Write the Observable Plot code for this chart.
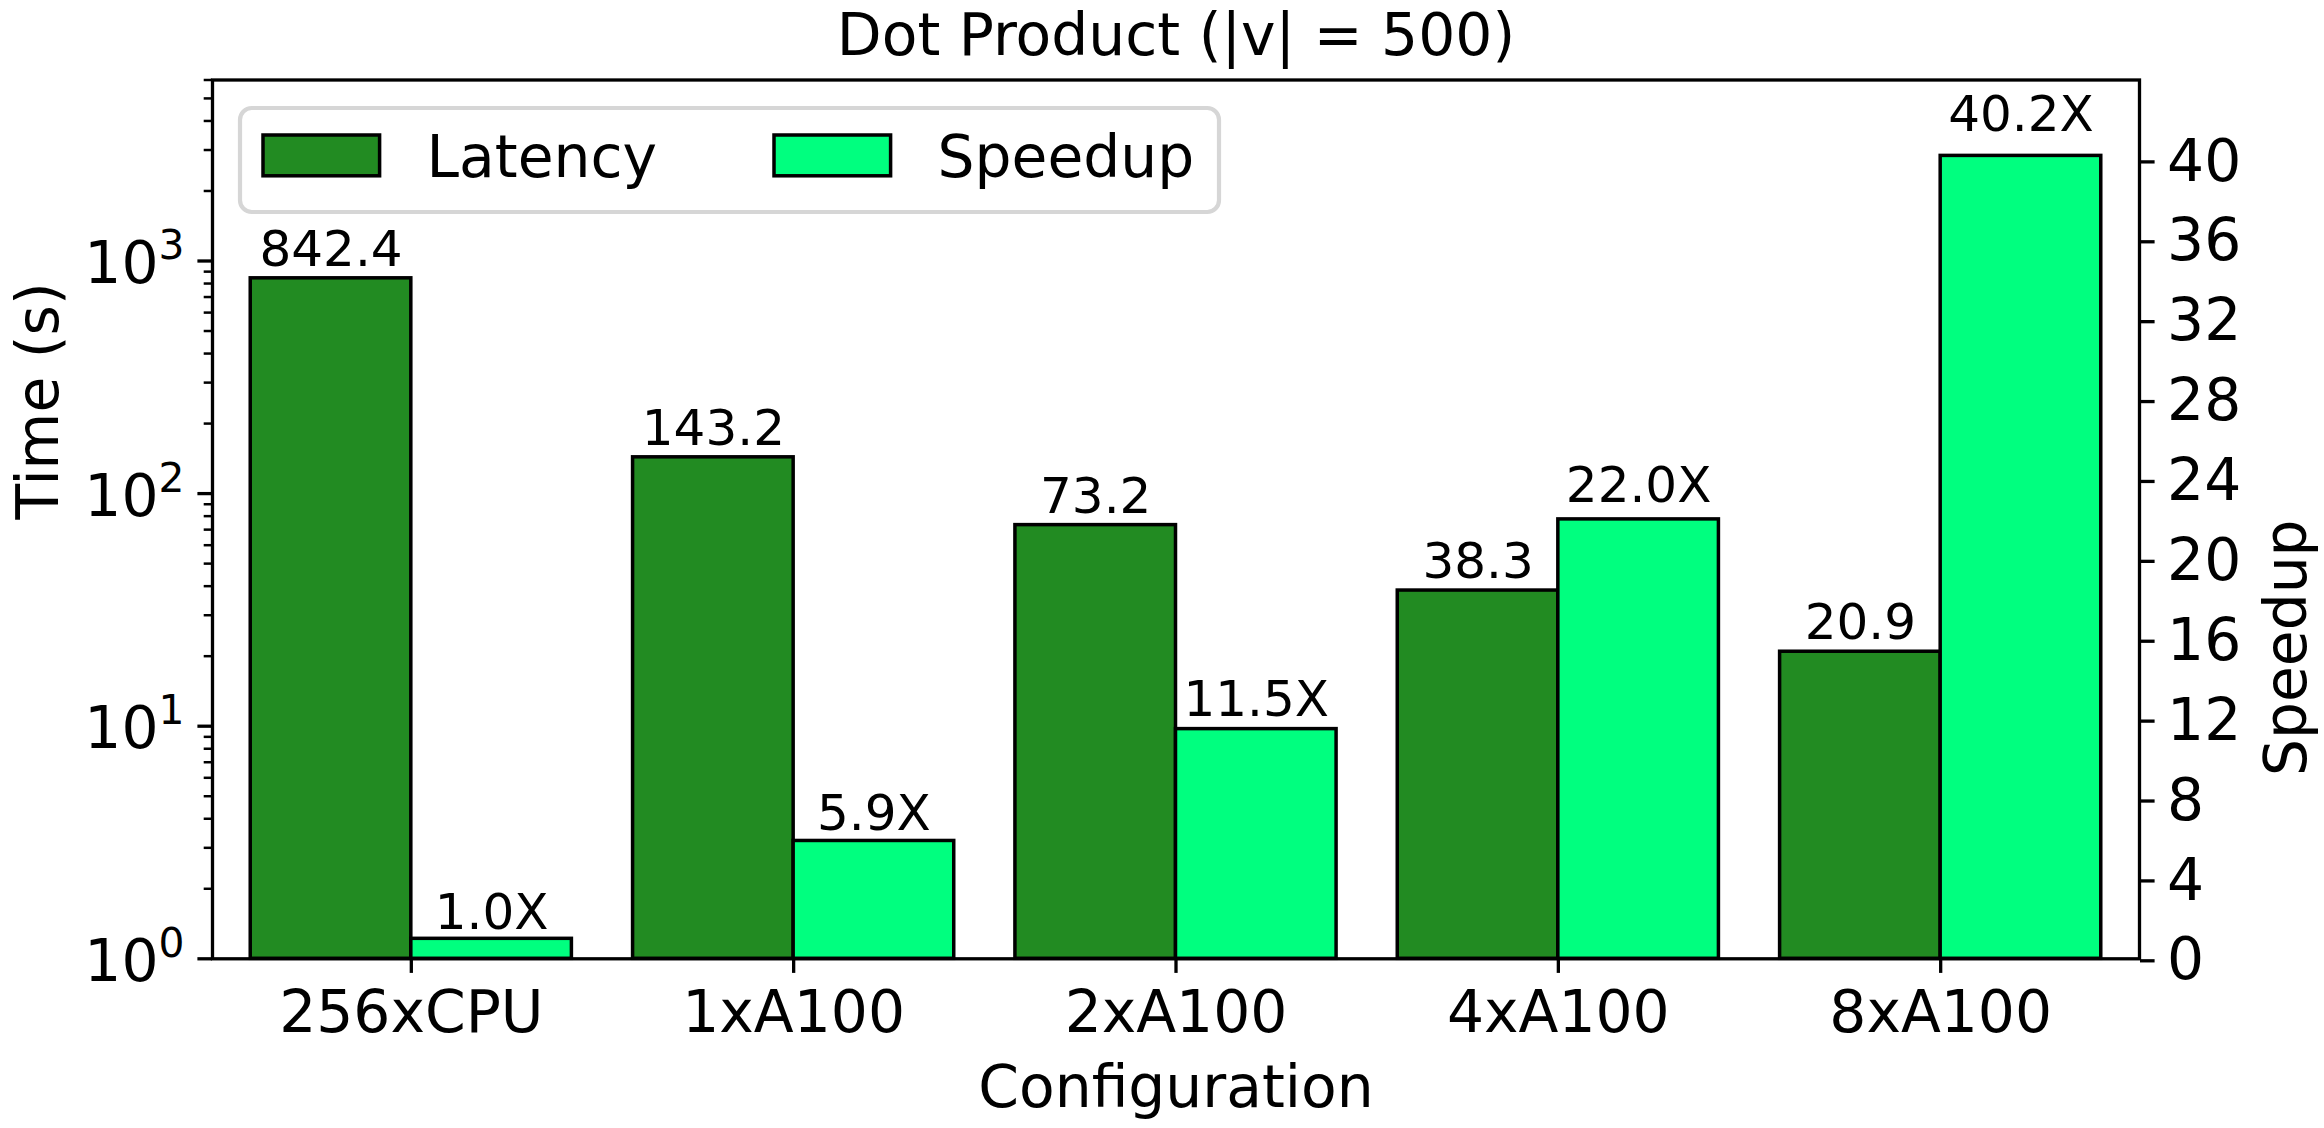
<!DOCTYPE html>
<html>
<head>
<meta charset="utf-8">
<script src="https://cdn.jsdelivr.net/npm/d3@7"></script>
<script src="https://cdn.jsdelivr.net/npm/@observablehq/plot@0.6"></script>
<style>
  html, body { margin: 0; padding: 0; background: #fff; }
  #chart svg { display: block; font-family: "DejaVu Sans", sans-serif; }
</style>
</head>
<body>
<div id="chart"></div>
<script>
// ---- data ----
const categories = ["256xCPU", "1xA100", "2xA100", "4xA100", "8xA100"];
const latency = [842.4, 143.2, 73.2, 38.3, 20.9];
const speedup = [1.0, 5.9, 11.5, 22.0, 40.2];
const timeDecades = [1, 10, 100, 1000];
const speedupTicks = [0, 4, 8, 12, 16, 20, 24, 28, 32, 36, 40];
const seriesNames = ["Latency", "Speedup"];
const seriesColors = ["#228B22", "#00FF7F"];

// ---- layout ----
const W = 2324, H = 1128;
const mL = 212, mR = 185, mT = 79.5, mB = 169.7;
const FS = 58.3, FSsmall = 50, FSsup = 40.8;
const timeMax = 6000, speedMax = 44;
const barW = 0.42;

// map speedup (linear right axis) onto log left axis
const kLog = Math.log10(timeMax) / speedMax;
const sp2y = s => Math.pow(10, s * kLog);

const rows = categories.map((c, i) => ({c, i, latency: latency[i], speedup: speedup[i]}));

// minor ticks for log axis
const minorTicks = [];
for (const d of [1, 10, 100, 1000]) for (let k = 2; k <= 9; k++) if (k * d <= timeMax) minorTicks.push(k * d);

const chart = Plot.plot({
  width: W, height: H,
  marginLeft: mL, marginRight: mR, marginTop: mT, marginBottom: mB,
  style: {background: "#fff", color: "#000", fontFamily: "DejaVu Sans"},
  x: {type: "linear", domain: [-0.52, 4.52], axis: null},
  y: {type: "log", domain: [1, timeMax], axis: null},
  marks: [
    // latency bars
    Plot.rect(rows, {x1: d => d.i - barW, x2: d => d.i, y1: 1, y2: "latency",
      fill: seriesColors[0], stroke: "#000", strokeWidth: 3.5}),
    // speedup bars (right axis, mapped)
    Plot.rect(rows, {x1: d => d.i, x2: d => d.i + barW, y1: 1, y2: d => sp2y(d.speedup),
      fill: seriesColors[1], stroke: "#000", strokeWidth: 3.5}),
    // value labels
    Plot.text(rows, {x: d => d.i - barW / 2, y: "latency", text: d => d.latency.toFixed(1),
      lineAnchor: "bottom", dy: -12.3, fontSize: FSsmall, fill: "#000"}),
    Plot.text(rows, {x: d => d.i + barW / 2, y: d => sp2y(d.speedup * 1.02 + 0.45), text: d => d.speedup.toFixed(1) + "X",
      lineAnchor: "bottom", fontSize: FSsmall, fill: "#000"}),
    // x axis
    Plot.axisX([0, 1, 2, 3, 4], {anchor: "bottom", tickSize: 14.6, tickPadding: 17.2, strokeWidth: 3.3,
      fontSize: FS, tickFormat: i => categories[i], label: null}),
    Plot.text(["Configuration"], {frameAnchor: "bottom", lineAnchor: "bottom", dy: 147.7, fontSize: FS, fill: "#000"}),
    // left log axis
    Plot.axisY(timeDecades, {anchor: "left", tickSize: 14.6, strokeWidth: 3.3, tickFormat: () => "", label: null}),
    Plot.axisY(minorTicks, {anchor: "left", tickSize: 8.3, strokeWidth: 2.5, tickFormat: () => "", label: null}),
    Plot.text(timeDecades, {y: d => d, frameAnchor: "left", text: () => "10", textAnchor: "end",
      lineAnchor: "bottom", dx: -54, dy: 22, fontSize: FS, fill: "#000"}),
    Plot.text(timeDecades, {y: d => d, frameAnchor: "left", text: d => String(Math.round(Math.log10(d))), textAnchor: "end",
      lineAnchor: "bottom", dx: -28, dy: -1.7, fontSize: FSsup, fill: "#000"}),
    Plot.text(["Time (s)"], {frameAnchor: "left", rotate: -90, lineAnchor: "middle", dx: -173.4, fontSize: FS, fill: "#000"}),
    // right speedup axis
    Plot.axisY(speedupTicks.map(sp2y), {anchor: "right", tickSize: 14.6, tickPadding: 13, strokeWidth: 3.3,
      fontSize: FS, dy: 2, tickFormat: v => String(Math.round(Math.log10(v) / kLog)), label: null}),
    Plot.text(["Speedup"], {frameAnchor: "right", rotate: -90, lineAnchor: "middle", dx: 147.6, fontSize: FS, fill: "#000"}),
    // title
    Plot.text(["Dot Product (|v| = 500)"], {frameAnchor: "top", lineAnchor: "bottom", dy: -25, fontSize: FS, fill: "#000"}),
    Plot.frame({stroke: "#000", strokeWidth: 3.3})
  ]
});

document.getElementById("chart").appendChild(chart);

// ---- legend (inside the axes, upper left) ----
const svg = d3.select(chart);
const lg = svg.append("g").attr("class", "legend").attr("text-anchor", "start");
const lx = mL + 28, ly = mT + 28.5;
lg.append("rect").attr("x", lx).attr("y", ly).attr("width", 979).attr("height", 104)
  .attr("rx", 11.7).attr("ry", 11.7)
  .attr("fill", "#fff").attr("stroke", "#d6d6d6").attr("stroke-width", 4.2);
const patchX = [lx + 23, lx + 534];
seriesNames.forEach((name, j) => {
  lg.append("rect").attr("x", patchX[j]).attr("y", ly + 27).attr("width", 116.6).attr("height", 40.8)
    .attr("fill", seriesColors[j]).attr("stroke", "#000").attr("stroke-width", 3.5);
  lg.append("text").attr("x", patchX[j] + 116.6 + 47).attr("y", ly + 68.5)
    .attr("text-anchor", "start")
    .attr("font-size", FS).attr("font-family", "DejaVu Sans").attr("fill", "#000").text(name);
});
</script>
</body>
</html>
